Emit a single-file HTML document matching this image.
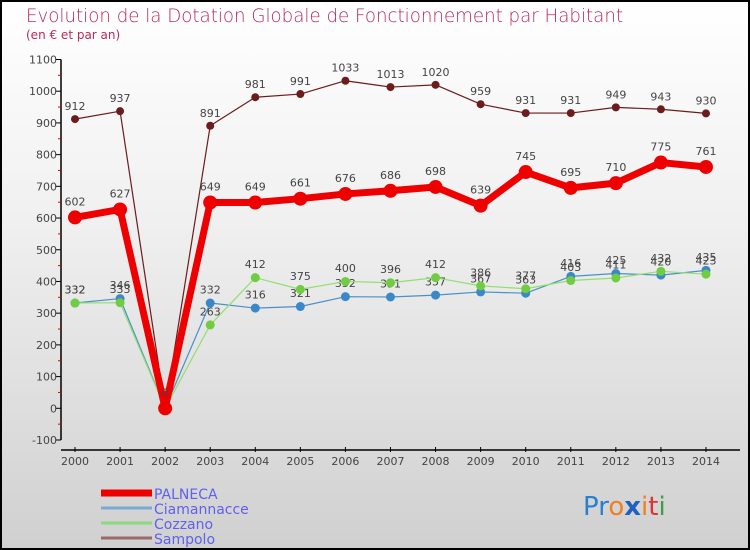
<!DOCTYPE html>
<html><head><meta charset="utf-8">
<style>
html,body{margin:0;padding:0;}
body{width:750px;height:550px;overflow:hidden;font-family:"DejaVu Sans","Liberation Sans",sans-serif;}
#wrap{position:relative;width:746px;height:546px;border:2px solid #000;background:linear-gradient(#ffffff 0%,#f0f0f0 40%,#d0d0d0 100%);}
svg{position:absolute;left:-2px;top:-2px;}
</style></head>
<body>
<div id="wrap">
<svg id="chart" width="750" height="550">
<text x="26" y="22" font-size="19" fill="#b82a5c" style="font-family:'DejaVu Sans',sans-serif;font-weight:200" textLength="597" lengthAdjust="spacingAndGlyphs">Evolution de la Dotation Globale de Fonctionnement par Habitant</text>
<text x="26" y="39" font-size="12" fill="#b82a5c">(en € et par an)</text>
<g id="axes"></g>
<g id="series"></g>
<g id="legend"></g>
<text x="583" y="515" font-size="26" font-family="'DejaVu Sans',sans-serif"><tspan fill="#2a7fd0">Pr</tspan><tspan fill="#f08020">o</tspan><tspan fill="#2060c0" font-weight="bold">x</tspan><tspan fill="#f08020">i</tspan><tspan fill="#e03030">t</tspan><tspan fill="#40a040">i</tspan></text>
</svg>
</div>
<script>
const years=[2000,2001,2002,2003,2004,2005,2006,2007,2008,2009,2010,2011,2012,2013,2014];
const palneca=[602,627,0,649,649,661,676,686,698,639,745,695,710,775,761];
const ciamannacce=[332,346,0,332,316,321,352,351,357,367,363,416,425,420,435];
const cozzano=[332,333,0,263,412,375,400,396,412,386,377,403,411,432,423];
const sampolo=[912,937,0,891,981,991,1033,1013,1020,959,931,931,949,943,930];
const yTicks=[-100,0,100,200,300,400,500,600,700,800,900,1000,1100];
const seriesNames=["PALNECA","Ciamannacce","Cozzano","Sampolo"];

const NS="http://www.w3.org/2000/svg";
function X(i){return 75+i*45.07;}
function Y(v){return 408.3-v*0.3171;}
function mk(tag,attrs,parent){const e=document.createElementNS(NS,tag);for(const k in attrs)e.setAttribute(k,attrs[k]);parent.appendChild(e);return e;}
const axes=document.getElementById('axes');
let e;
e=mk('line',{x1:61,y1:Y(1100),x2:61,y2:Y(-100),stroke:'#000','stroke-width':1.5},axes);


e=mk('line',{x1:61,y1:450,x2:740,y2:450,stroke:'#000','stroke-width':1.5},axes);


yTicks.forEach((t,i)=>{
  mk('line',{x1:56,y1:Y(t),x2:61,y2:Y(t),stroke:'#000'},axes);
  if(i<yTicks.length-1) mk('line',{x1:58,y1:Y(t+50),x2:61,y2:Y(t+50),stroke:'#e00000'},axes);
  const tx=mk('text',{x:57,y:Y(t)+4,'font-size':11,fill:'#444','text-anchor':'end'},axes);
  tx.textContent=t;
  
  
});
years.forEach((yr,i)=>{
  mk('line',{x1:X(i),y1:447,x2:X(i),y2:452,stroke:'#000'},axes);
  const tx=mk('text',{x:X(i),y:465,'font-size':11,fill:'#444','text-anchor':'middle'},axes);
  tx.textContent=yr;
  
  
});
const sg=document.getElementById('series');
function drawSeries(vals,color,w,r,name,dotColor){
  const g=mk('g',{},sg);
  
  
  const pts=vals.map((v,i)=>X(i)+','+Y(v)).join(' ');
  mk('polyline',{points:pts,fill:'none',stroke:color,'stroke-width':w,'stroke-linejoin':'round'},g);
  vals.forEach((v,i)=>{
    const c=mk('circle',{cx:X(i),cy:Y(v),r:r,fill:dotColor||color},g);
    
    
    const t=mk('text',{x:X(i),y:Y(v)-r-5,'font-size':11,fill:'#444','text-anchor':'middle'},g);
    t.textContent=v;
    
    
  });
}
drawSeries(sampolo,'#6b1c1c',1.2,4,'sampolo','#6b1c1c');
drawSeries(ciamannacce,'#4a90c8',1.2,4.5,'ciamannacce','#3a88c8');
drawSeries(cozzano,'#90e070',1.2,4.5,'cozzano','#70cc40');
drawSeries(palneca,'#ee0000',7,7,'palneca','#ee0000');
const lg=document.getElementById('legend');
const lc=[['#ee0000',7],['#7aaad0',3],['#90d880',3],['#9a6a6a',3]];
seriesNames.forEach((n,i)=>{
  const y=492+i*15;
  mk('line',{x1:101,y1:y+1,x2:152,y2:y+1,stroke:lc[i][0],'stroke-width':lc[i][1]},lg);
  const t=mk('text',{x:154,y:y+7,'font-size':14,fill:'#6060ee'},lg);
  t.textContent=n;
  
  
});
</script>
</body></html>
